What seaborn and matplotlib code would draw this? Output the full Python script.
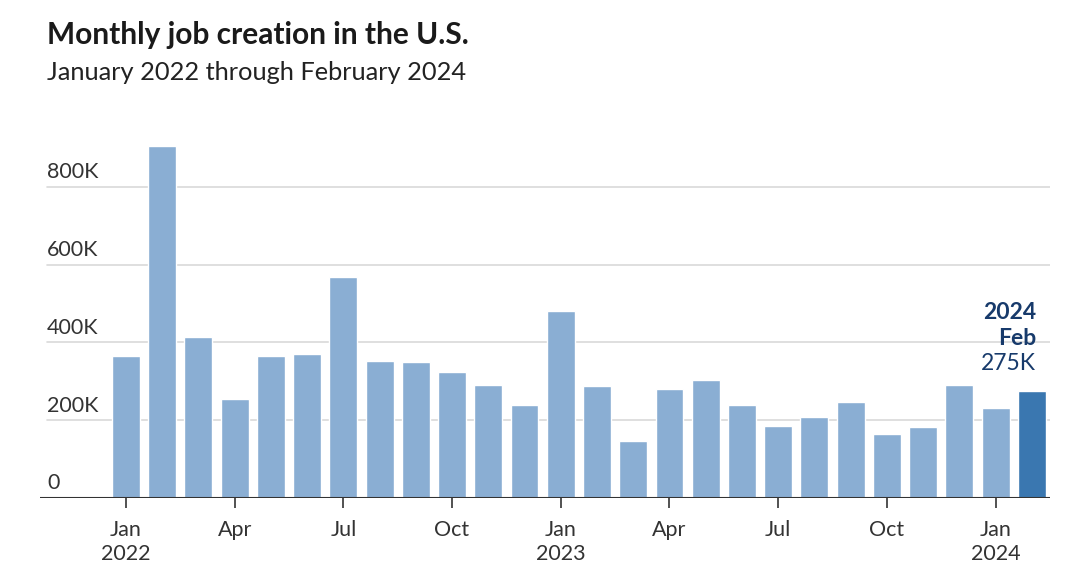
import seaborn as sns
import matplotlib.pyplot as plt
import pandas as pd

# Monthly job creation, Jan 2022 - Feb 2024 (thousands)
months = ["Jan", "Feb", "Mar", "Apr", "May", "Jun", "Jul", "Aug", "Sep", "Oct", "Nov", "Dec",
          "Jan", "Feb", "Mar", "Apr", "May", "Jun", "Jul", "Aug", "Sep", "Oct", "Nov", "Dec",
          "Jan", "Feb"]
years = [2022] * 12 + [2023] * 12 + [2024] * 2
jobs_k = [366, 904, 415, 255, 366, 370, 568, 352, 350, 324, 290, 239,
          481, 288, 146, 280, 303, 240, 185, 208, 247, 165, 182, 290,
          232, 275]

tick_idx = [0, 3, 6, 9, 12, 15, 18, 21, 24]
tick_labels = ["Jan\n2022", "Apr", "Jul", "Oct", "Jan\n2023", "Apr", "Jul", "Oct", "Jan\n2024"]
y_ticks = [0, 200, 400, 600, 800]

df = pd.DataFrame({"idx": range(len(jobs_k)), "jobs": [v * 1000 for v in jobs_k]})
df["latest"] = ["old"] * (len(df) - 1) + ["new"]

sns.set_style("white")
plt.rcParams["font.family"] = ["Lato", "DejaVu Sans"]

fig = plt.figure(figsize=(10.68, 5.8), dpi=100)
ax = fig.add_axes([0.0375, 0.1414, 0.9456, 0.6345])

sns.barplot(data=df, x="idx", y="jobs", hue="latest",
            palette={"old": "#8aaed3", "new": "#3a77b0"},
            dodge=False, width=0.77, legend=False, ax=ax, saturation=1)

ax.set_xlim(-2.37, 25.5)
ax.set_ylim(0, 946000)

# gridlines + labels above them
for v in y_ticks:
    if v > 0:
        ax.axhline(v * 1000, xmin=0.007, xmax=1, color="#d9d9d9", lw=1.2, zorder=0)
    ax.text(0.007, v * 1000 + 12000, f"{v}K" if v else "0",
            transform=ax.get_yaxis_transform(), ha="left", va="bottom",
            fontsize=15.5, color="#333333")
ax.axhline(0, color="#333333", lw=1.5, zorder=3)

ax.set_yticks([])
ax.set_xticks(tick_idx)
ax.set_xticklabels(tick_labels, fontsize=15.5, color="#333333", linespacing=1.25)
ax.tick_params(axis="x", length=7, width=1.2, color="#333333", pad=9, bottom=True)
ax.set_xlabel("")
ax.set_ylabel("")
sns.despine(ax=ax, left=True, bottom=True)

# latest month annotation
navy = "#173a6b"
lx = 25.12
ax.text(lx, 476000, "2024", ha="right", va="center", fontsize=16.5,
        fontweight="bold", color=navy)
ax.text(lx, 411000, "Feb", ha="right", va="center", fontsize=16.5,
        fontweight="bold", color=navy)
ax.text(lx, 346000, f"{jobs_k[-1]}K", ha="right", va="center", fontsize=16.5,
        color=navy)

fig.text(0.044, 0.94, "Monthly job creation in the U.S.", fontsize=21.5,
         fontweight="bold", color="#1a1a1a", va="center")
fig.text(0.044, 0.875, "January 2022 through February 2024", fontsize=18.3,
         color="#222222", va="center")

fig.savefig("out.png", dpi=100)
